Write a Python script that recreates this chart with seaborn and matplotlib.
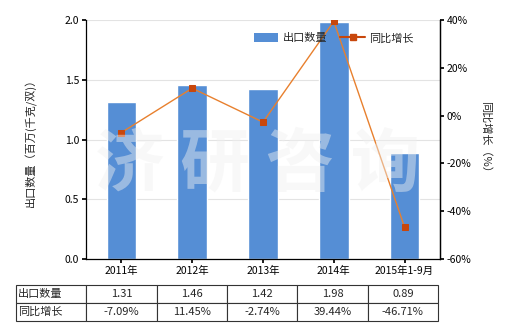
import matplotlib
matplotlib.use("Agg")
import matplotlib.pyplot as plt
import seaborn as sns
import pandas as pd
import numpy as np
from matplotlib.patches import Patch
from matplotlib.lines import Line2D
from matplotlib.ticker import FuncFormatter

categories = ["2011年", "2012年", "2013年", "2014年", "2015年1-9月"]
export_qty = [1.31, 1.46, 1.42, 1.98, 0.89]
yoy_growth = [-7.09, 11.45, -2.74, 39.44, -46.71]
qty_labels = ["1.31", "1.46", "1.42", "1.98", "0.89"]
growth_labels = ["-7.09%", "11.45%", "-2.74%", "39.44%", "-46.71%"]

sns.set_theme(style="white")
plt.rcParams['font.family'] = ['Noto Sans CJK SC', 'DejaVu Sans']
plt.rcParams['axes.unicode_minus'] = False

bar_color = "#558ED5"
line_color = "#E8802E"
marker_color = "#C8470C"

df = pd.DataFrame({"cat": categories, "qty": export_qty, "yoy": yoy_growth})

fig = plt.figure(figsize=(5.2, 3.3), dpi=100)
ax = fig.add_axes([86/520, 71/330, 354/520, 239/330])

sns.barplot(data=df, x="cat", y="qty", color=bar_color, width=0.42,
            saturation=1, ax=ax, zorder=2)
ax.set_ylim(0, 2.0)
ax.set_yticks([0, 0.5, 1.0, 1.5, 2.0])
ax.yaxis.set_major_formatter(FuncFormatter(lambda v, p: f"{v:.1f}"))
ax.grid(axis="y", color="#e3e3e3", linewidth=0.8, zorder=0)
ax.set_axisbelow(True)
ax.set_xlabel("")
ax.set_ylabel("出口数量（百万(千克/双)）", fontsize=8, labelpad=20)
for s in ["top"]:
    ax.spines[s].set_visible(False)
for s in ["left", "bottom", "right"]:
    ax.spines[s].set_color("black")
    ax.spines[s].set_linewidth(0.9)
ax.tick_params(axis="both", labelsize=7.5, colors="black", length=3,
               direction="out", left=True, bottom=True, pad=2)

ax2 = ax.twinx()
sns.pointplot(data=df, x="cat", y="yoy", color=line_color, markers="s",
              markersize=4, linewidth=1, ax=ax2, zorder=5)
for ln in ax2.lines:
    ln.set_color(line_color)
    ln.set_markerfacecolor(marker_color)
    ln.set_markeredgecolor(marker_color)
ax2.set_ylim(-60, 40)
ax2.set_yticks([-60, -40, -20, 0, 20, 40])
ax2.yaxis.set_major_formatter(FuncFormatter(lambda v, p: f"{int(v)}%"))
ax2.set_ylabel("同比增长（%）", fontsize=8, rotation=-90, labelpad=14)
ax2.spines["top"].set_visible(False)
ax2.spines["right"].set_color("black")
ax2.spines["right"].set_linewidth(0.9)
ax2.spines["left"].set_visible(False)
ax2.spines["bottom"].set_visible(False)
ax2.tick_params(axis="y", labelsize=7.5, colors="black", length=3,
                direction="out", right=True, pad=2)
ax2.set_xlabel("")
ax.set_xlim(-0.5, len(categories) - 0.5)

# watermark
fig.text(258/520, 1 - 165/330, "济 研 咨 询", fontsize=50, fontweight="bold",
         color="#f0f0f0", alpha=0.45, ha="center", va="center", zorder=10)

handles = [Patch(facecolor=bar_color, edgecolor="none"),
           Line2D([0], [0], color=marker_color, linewidth=1.5, marker="s",
                  markersize=4, markerfacecolor=marker_color)]
ax2.legend(handles, ["出口数量", "同比增长"], loc="center",
           bbox_to_anchor=(0.7, 0.925), ncol=2, frameon=False, fontsize=8,
           handlelength=2.2, handleheight=1.0, columnspacing=1.2,
           handletextpad=0.4)

# data table
cell_text = [["出口数量"] + qty_labels, ["同比增长"] + growth_labels]
tbl = ax.table(cellText=cell_text, cellLoc="center",
               bbox=[(16 - 86) / 354, (259 - 321) / 239, (438 - 16) / 354, 36 / 239])
tbl.auto_set_font_size(False)
tbl.set_fontsize(8)
for (r, c), cell in tbl.get_celld().items():
    cell.set_edgecolor("#333333")
    cell.set_linewidth(0.8)
    if c == 0:
        cell.get_text().set_ha("left")
        cell._loc = "left"
        cell.PAD = 0.03

fig.savefig("out.png", dpi=100)
